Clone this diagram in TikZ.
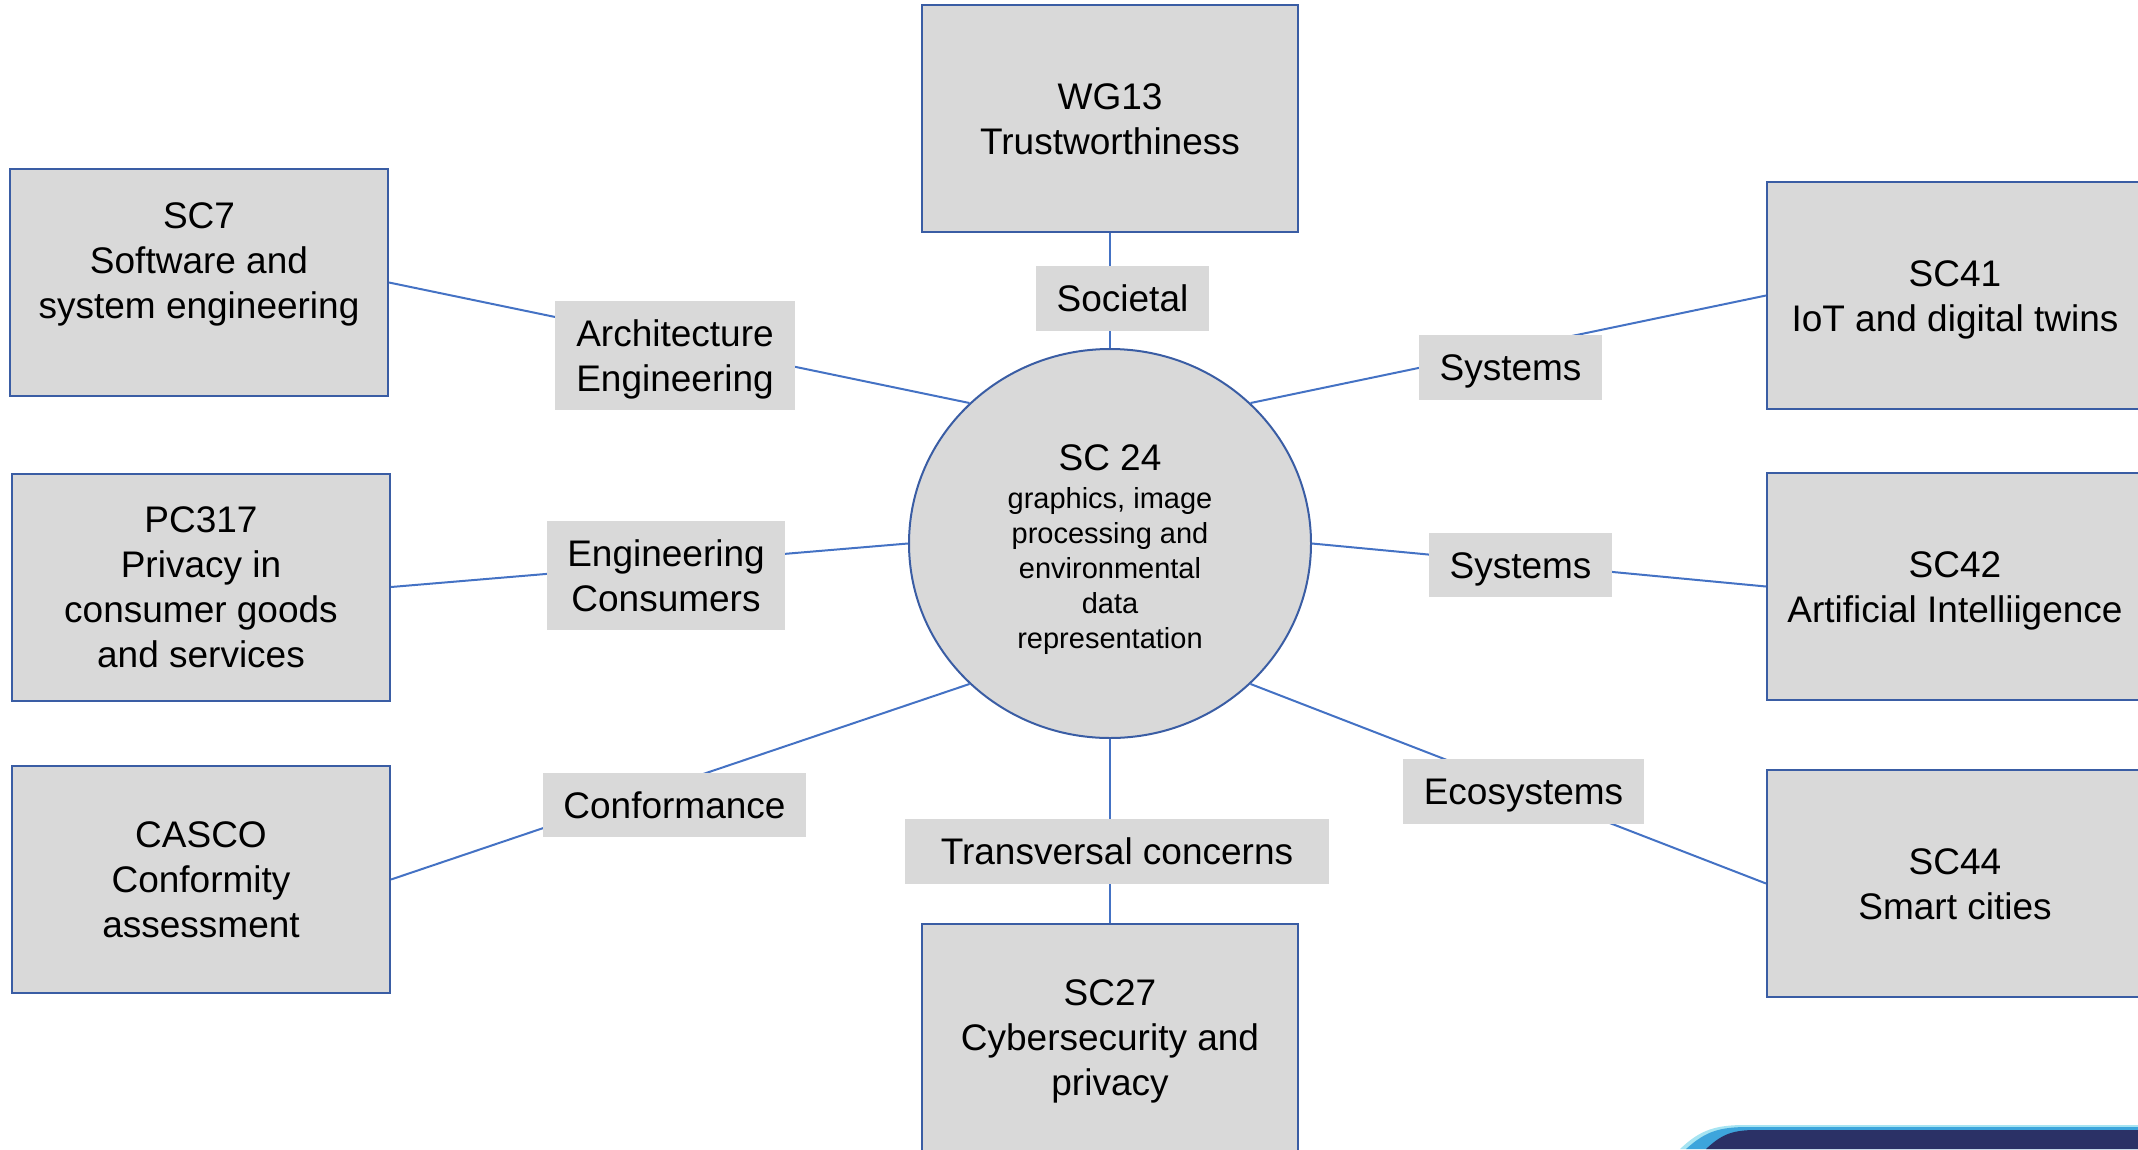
\documentclass[tikz,border=0pt]{standalone}
\usepackage{fontspec}
\setmainfont{Liberation Sans}
\usetikzlibrary{shapes.geometric}
\definecolor{boxgray}{HTML}{D9D9D9}
\definecolor{boxblue}{HTML}{3A5DA4}
\definecolor{linkblue}{HTML}{4472C4}
\definecolor{bannernavy}{HTML}{2B3166}
\definecolor{bannerblue}{HTML}{3DA5DC}
\definecolor{bannercyan}{HTML}{A6E4F2}
\newcommand{\bigtxt}{\fontsize{37}{45}\selectfont}
\newcommand{\subtxt}{\fontsize{29}{35}\selectfont}
\newcommand{\boxstrut}{\rule[-8pt]{0pt}{42pt}}

\begin{document}
\begin{tikzpicture}[x=1pt, y=-1pt,
  group/.style={draw=boxblue, line width=2pt, fill=boxgray, align=center, font=\bigtxt,
    minimum width=376pt, minimum height=227pt, inner sep=0pt},
  topic/.style={fill=boxgray, align=center, font=\bigtxt, inner sep=0pt},
  link/.style={draw=linkblue, line width=2pt}]
\useasboundingbox (0,0) rectangle (2138,1149);
\clip (0,0) rectangle (2138,1149);

\node[group] (wg13) at (1110,118.5) {\boxstrut WG13\\Trustworthiness\boxstrut};
\node[group, minimum width=378pt] (sc7) at (199,282.5) {\boxstrut SC7\\Software and\\system engineering\\\boxstrut};
\node[group, minimum width=378pt] (pc317) at (201,587) {\boxstrut PC317\\Privacy in\\consumer goods\\and services\boxstrut};
\node[group, minimum width=378pt] (casco) at (201,879.5) {\boxstrut CASCO\\Conformity\\assessment\boxstrut};
\node[group] (sc27) at (1110,1037.5) {\boxstrut SC27\\Cybersecurity and\\privacy\boxstrut};
\node[group] (sc41) at (1955,295.5) {\boxstrut SC41\\IoT and digital twins\boxstrut};
\node[group] (sc42) at (1955,586.5) {\boxstrut SC42\\Artificial Intelliigence\boxstrut};
\node[group] (sc44) at (1955,883.5) {\boxstrut SC44\\Smart cities\boxstrut};
\node[ellipse, draw=boxblue, line width=2pt, fill=boxgray, align=center, font=\subtxt,
  minimum width=402pt, minimum height=389pt, inner sep=0pt] (sc24) at (1110,543.5)
  {\rule{0pt}{37.6pt}{\bigtxt SC 24}\\[3.4pt]graphics, image\\processing and\\environmental\\data\\representation};

\draw[link] (wg13) -- (sc24);
\draw[link] (sc7.east) -- (sc24.135);
\draw[link] (pc317.east) -- (sc24.180);
\draw[link] (casco.east) -- (sc24.225);
\draw[link] (sc24) -- (sc27);
\draw[link] (sc24.315) -- (sc44.west);
\draw[link] (sc24.0) -- (sc42.west);
\draw[link] (sc24.45) -- (sc41.west);

\node[topic, minimum width=173pt, minimum height=65pt] (societal) at (1122.5,298.5) {\boxstrut Societal};
\node[topic, minimum width=240pt, minimum height=109pt] (archeng) at (675,355.5) {\boxstrut Architecture\\Engineering\boxstrut};
\node[topic, minimum width=238pt, minimum height=109pt] (engcons) at (666,575.5) {\boxstrut Engineering\\Consumers\boxstrut};
\node[topic, minimum width=263pt, minimum height=64pt] (conform) at (674.5,805) {\boxstrut Conformance};
\node[topic, minimum width=424pt, minimum height=65pt] (transv) at (1117,851.5) {\boxstrut Transversal concerns};
\node[topic, minimum width=241pt, minimum height=65pt] (ecosys) at (1523.5,791.5) {\boxstrut Ecosystems};
\node[topic, minimum width=183pt, minimum height=64pt] (syslow) at (1520.5,565) {\boxstrut Systems};
\node[topic, minimum width=183pt, minimum height=65pt] (sysup) at (1510.5,367.5) {\boxstrut Systems};

\fill[bannercyan] (1680,1149) .. controls (1700,1130) and (1715,1125) .. (1745,1125) -- (2138,1125) -- (2138,1149) -- cycle;
\fill[bannerblue] (1686,1149) .. controls (1705,1132) and (1718,1127) .. (1748,1127) -- (2138,1127) -- (2138,1149) -- cycle;
\fill[bannernavy] (1706,1149) .. controls (1720,1136) and (1730,1130) .. (1755,1130) -- (2138,1130) -- (2138,1149) -- cycle;
\end{tikzpicture}
\end{document}
